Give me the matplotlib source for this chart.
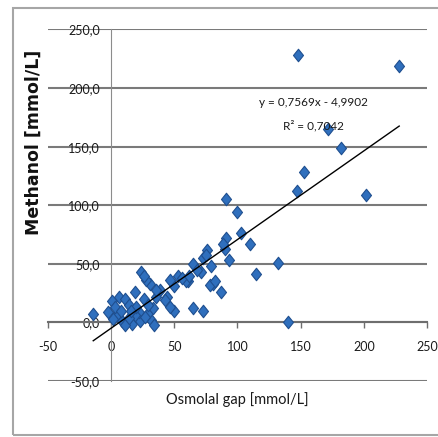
import matplotlib.pyplot as plt
import matplotlib.ticker as mticker
from matplotlib.path import Path
from matplotlib.patches import Rectangle

# osmolal gap vs methanol
osm_gap = [148, 228, 172, 182, 153, 147, 202, 132, 140, 91, 100, 103, 110, 115, 91, 90, 93, 89,
           87, 81, 78, 82, 79, 76, 73, 75, 71, 65, 61, 59, 53, 50, 47, 44, 43, 39, 36, 31, 36, 28,
           24, 26, 73, 65, 50, 47, 56, 68, 62,
           -14, 6, 19, 1, 11, 14, 26, -2, 5, 9, 17, 23, 32, 30, 22, 3, 19, 11, 34, 8, 14, 27, 2,
           20, 33, 16, 29]
methanol = [228, 219, 165, 149, 128, 112, 109, 51, 0, 105, 94, 76, 67, 41, 72, 63, 53, 67,
            26, 33, 32, 35, 48, 62, 55, 58, 43, 50, 35, 35, 40, 31, 36, 22, 19, 28, 22, 33, 28, 36,
            43, 40, 10, 12, 10, 13, 38, 45, 40,
            7, 22, 26, 18, 20, 15, 20, 9, 6, 1, -1, 1, 2, 9, 9, 13, 6, -2, -2, 10, 4, 5, 3,
            13, 12, 10, 15]

slope = 0.7569
intercept = -4.9902
eq_text = "y = 0,7569x - 4,9902"
r2_text = "R² = 0,7042"

plt.rcParams['font.family'] = ['Lato', 'DejaVu Sans']

fig = plt.figure(figsize=(4.39, 4.37), dpi=100)
ax = fig.add_axes([0.1087, 0.128, 0.864, 0.8045])

# outer chart border
fig.patches.append(Rectangle((13 / 439, 1 - 435 / 437), 1.0, 427 / 437, transform=fig.transFigure,
                             fill=False, edgecolor='#a6a6a6', linewidth=1.5))

ax.set_xlim(-50, 250)
ax.set_ylim(-50, 250)
ax.set_yticks(range(-50, 251, 50))
ax.set_xticks(range(-50, 251, 50))
ax.yaxis.set_major_formatter(mticker.FuncFormatter(lambda v, p: f"{v:.1f}".replace('.', ',')))
ax.xaxis.set_major_formatter(mticker.FuncFormatter(lambda v, p: f"{v:.0f}"))

for s in ['top', 'right']:
    ax.spines[s].set_visible(False)
ax.spines['left'].set_position(('data', 0))
ax.spines['bottom'].set_position(('data', 0))
ax.spines['left'].set_color('#8c8c8c')
ax.spines['bottom'].set_color('#6e6e6e')
ax.spines['bottom'].set_linewidth(1.5)

ax.grid(True, axis='y', color='#7a7a7a', linewidth=1.5)
ax.set_axisbelow(True)
ax.tick_params(axis='y', length=0, pad=8, labelsize=9, colors='#1a1a1a')
ax.tick_params(axis='x', direction='out', length=4, width=1, color='#6e6e6e', pad=9,
               labelsize=9, labelcolor='#1a1a1a')

# diamond marker, a bit taller than wide
diamond = Path([(0, 1), (0.8, 0), (0, -1), (-0.8, 0), (0, 1)],
               [Path.MOVETO, Path.LINETO, Path.LINETO, Path.LINETO, Path.CLOSEPOLY])
ax.plot(osm_gap, methanol, linestyle='none', marker=diamond, markersize=9,
        markerfacecolor='#2f6fbd', markeredgecolor='#1f4f8f', markeredgewidth=0.8,
        clip_on=False, zorder=3)

x0, x1 = min(osm_gap), max(osm_gap)
ax.plot([x0, x1], [slope * x0 + intercept, slope * x1 + intercept], color='black',
        linewidth=1.0, zorder=4)

ax.text(160, 188, eq_text, ha='center', va='center', fontsize=8.5, color='#1a1a1a', zorder=5)
ax.text(160, 168, r2_text, ha='center', va='center', fontsize=8.5, color='#1a1a1a', zorder=5)

fig.text(237.5 / 439, 1 - 400 / 437, "Osmolal gap [mmol/L]", ha='center', va='center',
         fontsize=10.5, color='#1a1a1a')
fig.text(34 / 439, 1 - 142 / 437, "Methanol [mmol/L]", ha='center', va='center', rotation=90,
         fontsize=12.5, fontweight='bold', family='DejaVu Sans', color='#111111')

fig.savefig("out.png", dpi=100)
